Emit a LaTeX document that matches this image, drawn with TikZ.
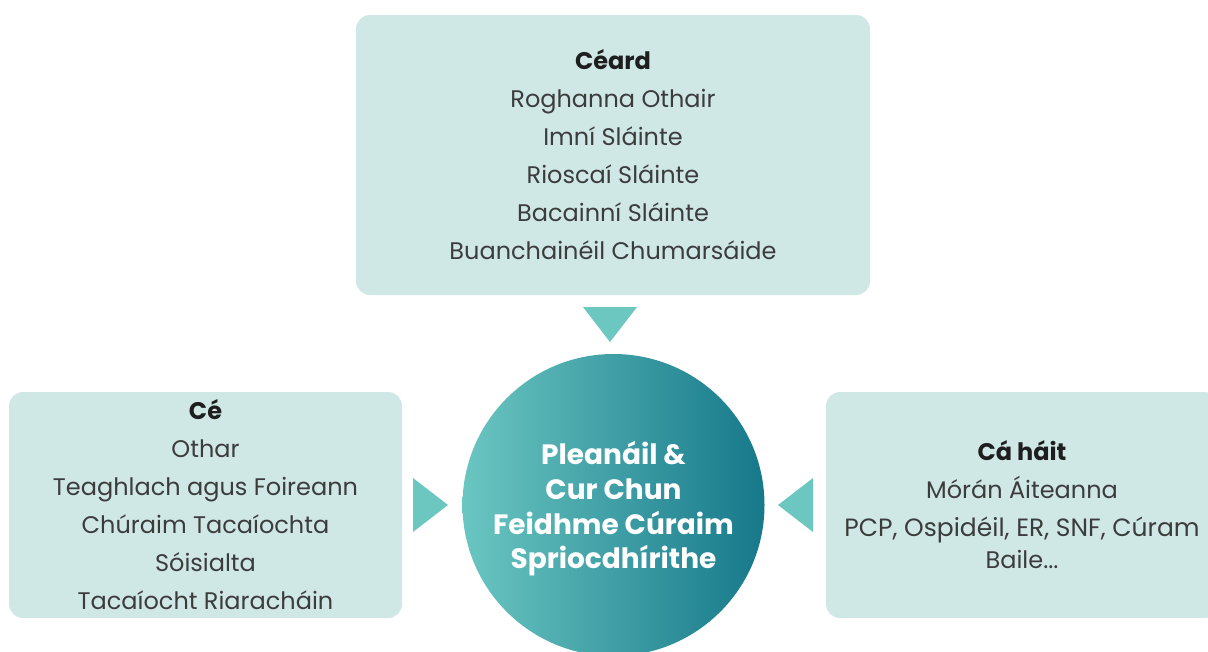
\documentclass[tikz,border=0pt]{standalone}
\usepackage{fontspec}
\setmainfont{Poppins}
\definecolor{boxfill}{HTML}{CFE8E6}
\definecolor{trifill}{HTML}{6CC7C0}
\definecolor{circL}{HTML}{6AC6C1}
\definecolor{circR}{HTML}{16788A}
\definecolor{txt}{HTML}{3C3C3C}
\definecolor{head}{HTML}{1E1E1E}
\tikzset{
  infobox/.style={fill=boxfill, rounded corners=14pt, align=center, text=txt,
    font=\fontsize{24}{38}\selectfont, inner sep=0pt},
  tri/.style={fill=trifill},
  hub/.style={circle, minimum size=302pt, inner sep=0pt, left color=circL, right color=circR},
  hubtext/.style={text=white, align=center, inner sep=0pt, font=\fontsize{28}{34.7}\selectfont\bfseries}
}
\newcommand{\hdr}[1]{{\color{head}\bfseries #1}}
\begin{document}
\begin{tikzpicture}[x=1pt,y=-1pt]
\useasboundingbox (0,0) rectangle (1208,651);
\clip (0,0) rectangle (1208,651);
\node[infobox, minimum width=514pt, minimum height=280pt] (ceard) at (613,155)
  {\hdr{Céard}\\Roghanna Othair\\Imní Sláinte\\Rioscaí Sláinte\\Bacainní Sláinte\\Buanchainéil Chumarsáide};
\node[infobox, minimum width=393pt, minimum height=226pt] (ce) at (205.5,505)
  {\hdr{Cé}\\Othar\\Teaghlach agus Foireann\\Chúraim Tacaíochta\\Sóisialta\\Tacaíocht Riaracháin};
\node[infobox, minimum width=392pt, minimum height=226pt] (cahait) at (1022,505)
  {\hdr{Cá háit}\\Mórán Áiteanna\\{\fontsize{25}{38}\selectfont PCP, Ospidéil, ER, SNF, Cúram}\\[-6pt]Baile...};
\node[hub] (hub) at (613.5,505) {};
\node[hubtext] (hubtxt) at ([yshift=-4pt]hub.center) {Pleanáil \&\\Cur Chun\\Feidhme Cúraim\\Spriocdhírithe};
\fill[tri] (583,307) -- (637,307) -- (610,342) -- cycle;
\fill[tri] (413,478) -- (413,532) -- (448,505) -- cycle;
\fill[tri] (813,478) -- (813,532) -- (778,505) -- cycle;
\end{tikzpicture}
\end{document}
